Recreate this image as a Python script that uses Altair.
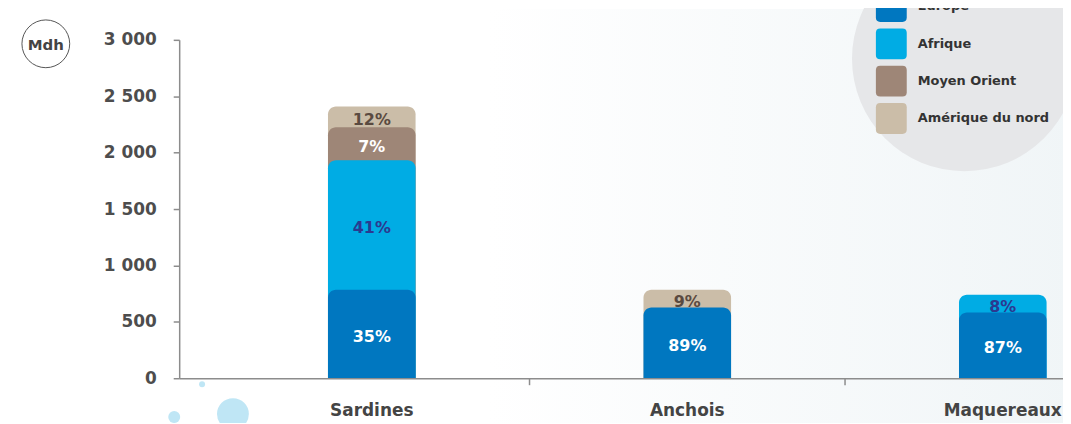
import altair as alt
import pandas as pd

FONT = "DejaVu Sans"

categories = ["Sardines", "Anchois", "Maquereaux"]
regions = ["Europe", "Afrique", "Moyen Orient", "Amérique du nord"]
region_colors = ["#0077c0", "#00ace4", "#9e8677", "#cbbda8"]
label_colors = ["#ffffff", "#2b3990", "#ffffff", "#5a4a40"]

# values in Mdh per region (None = not shown)
sardines_values = [785, 1148, 291, 186]
sardines_labels = ["35%", "41%", "7%", "12%"]
anchois_values = [627, None, None, 158]
anchois_labels = ["89%", None, None, "9%"]
maquereaux_values = [583, 158, None, None]
maquereaux_labels = ["87%", "8%", None, None]

y_ticks = [0, 500, 1000, 1500, 2000, 2500, 3000]
boundaries = ["Anchois", "Maquereaux"]

rows = []
for prod, vals, labs in [("Sardines", sardines_values, sardines_labels),
                         ("Anchois", anchois_values, anchois_labels),
                         ("Maquereaux", maquereaux_values, maquereaux_labels)]:
    for i, (v, l) in enumerate(zip(vals, labs)):
        if v is None:
            continue
        rows.append({"product": prod, "region": regions[i], "value": v,
                     "label": l, "order": i, "tcolor": label_colors[i]})
df = pd.DataFrame(rows)

xscale = alt.Scale(domain=categories, range=[0, 1021], paddingInner=0, paddingOuter=0.1104)
yscale = alt.Scale(domain=[0, 3000], nice=False, zero=True)

xaxis = alt.Axis(title=None, ticks=False, domainColor="#8c8c8c", domainWidth=1.5,
                 labelFont=FONT, labelFontSize=17, labelFontWeight="bold",
                 labelColor="#444444", labelPadding=24, labelAngle=0, zindex=1)
yaxis = alt.Axis(title=None, values=y_ticks, grid=False, domainColor="#8c8c8c",
                 domainWidth=1.5, tickColor="#8c8c8c", tickSize=6, tickWidth=1.5,
                 labelFont=FONT, labelFontSize=17, labelFontWeight="bold",
                 labelColor="#4d4d4d", labelPadding=17, zindex=1,
                 labelExpr="replace(format(datum.value, ','), ',', ' ')")

rounded = ("M -0.72 -1 H 0.72 Q 1 -1 1 -0.72 V 0.72 Q 1 1 0.72 1 H -0.72 "
           "Q -1 1 -1 0.72 V -0.72 Q -1 -1 -0.72 -1 Z")

base = alt.Chart(df).transform_stack(
    stack="value", groupby=["product"], as_=["v0", "v1"],
    sort=[alt.SortField("order", order="ascending")]
).transform_calculate(mid="(datum.v0 + datum.v1) / 2")

bars = base.mark_bar(cornerRadiusTopLeft=8, cornerRadiusTopRight=8, size=88).encode(
    x=alt.X("product:N", scale=xscale, sort=categories, axis=xaxis),
    y=alt.Y("v1:Q", scale=yscale, axis=yaxis),
    y2=alt.datum(0),
    color=alt.Color("region:N", scale=alt.Scale(domain=regions, range=region_colors),
                    legend=alt.Legend(orient="none", legendX=700, legendY=-49, title=None,
                                      symbolType=rounded, symbolSize=961, symbolStrokeWidth=0,
                                      symbolOpacity=1, labelFont=FONT, labelFontSize=13,
                                      labelFontWeight="bold", labelColor="#333333",
                                      rowPadding=6.5, labelOffset=11, padding=0)),
    order=alt.Order("order:Q", sort="descending"),
)

texts = base.mark_text(font=FONT, fontSize=16, fontWeight="bold", baseline="middle", dy=3).encode(
    x=alt.X("product:N", scale=xscale, sort=categories, axis=xaxis),
    y=alt.Y("mid:Q", scale=yscale, axis=yaxis),
    text="label:N",
    color=alt.Color("tcolor:N", scale=None),
)

ticks = alt.Chart(pd.DataFrame({"product": boundaries})).mark_rule(
    color="#8c8c8c", strokeWidth=1.5).encode(
    x=alt.X("product:N", scale=xscale, sort=categories, bandPosition=0, axis=xaxis),
    y=alt.value(340), y2=alt.value(347),
)

one = pd.DataFrame({"k": [0]})
bg = alt.Chart(one).mark_rect(
    color=alt.Gradient(gradient="linear", x1=0, x2=1, y1=0, y2=0,
                       stops=[alt.GradientStop(offset=0, color="#ffffff"),
                              alt.GradientStop(offset=0.45, color="#ffffff"),
                              alt.GradientStop(offset=1, color="#f0f5f7")])
).encode(x=alt.value(-172), x2=alt.value(900), y=alt.value(-31), y2=alt.value(392))

legend_circle = alt.Chart(one).mark_point(
    shape="circle", filled=True, color="#e6e7e9", opacity=1, size=226 * 226
).encode(x=alt.value(789), y=alt.value(19))


def bubble(px, py, diam):
    return alt.Chart(one).mark_point(
        shape="circle", filled=True, color="#bfe6f5", opacity=1, size=diam * diam
    ).encode(x=alt.value(px), y=alt.value(py))


bubbles = [bubble(23, 346, 6), bubble(-5, 379, 12), bubble(54, 376, 32)]

mdh_circle = alt.Chart(one).mark_point(
    shape="circle", filled=False, color="#555555", strokeWidth=1, size=48 * 48, opacity=1
).encode(x=alt.value(-134), y=alt.value(4))
mdh_text = alt.Chart(one).mark_text(
    text="Mdh", font=FONT, fontSize=15, fontWeight="bold", color="#444444", baseline="middle"
).encode(x=alt.value(-134), y=alt.value(5))

chart = alt.layer(bg, legend_circle, *bubbles, mdh_circle, mdh_text, bars, texts, ticks).properties(
    width=888, height=340,
    padding={"left": 172, "top": 31, "right": 0, "bottom": 44},
    autosize=alt.AutoSizeParams(type="none"),
).configure_view(stroke=None).configure(background="#ffffff")

chart.save("out.html", embed_options={"renderer": "svg", "actions": False})
